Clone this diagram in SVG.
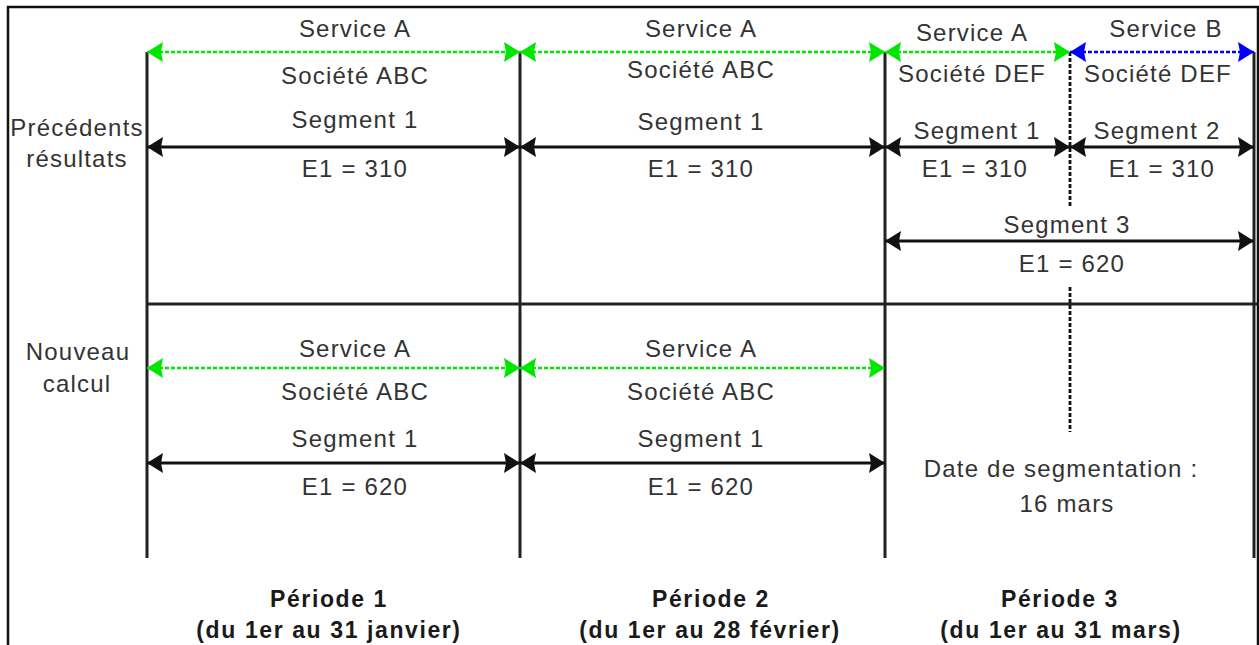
<svg xmlns="http://www.w3.org/2000/svg" width="1259" height="645" viewBox="0 0 1259 645">
<style>
.t{font-family:"Liberation Sans",Arial,sans-serif;font-size:24px;fill:#333;text-anchor:middle;letter-spacing:1.2px}
.b{font-family:"Liberation Sans",Arial,sans-serif;font-size:23px;font-weight:bold;fill:#1a1a1a;text-anchor:middle;letter-spacing:1.6px}
.v{stroke:#222;stroke-width:3;fill:none}
.blk{stroke:#111;stroke-width:2.8;fill:none;marker-start:url(#ak);marker-end:url(#ak)}
.grn{stroke:#00e600;stroke-width:2.6;stroke-dasharray:4 2;fill:none;marker-start:url(#ag);marker-end:url(#ag)}
.blu{stroke:#0000ff;stroke-width:2.6;stroke-dasharray:4 2;fill:none;marker-start:url(#ab);marker-end:url(#ab)}
.dash{stroke:#111;stroke-width:2.8;stroke-dasharray:4 2;fill:none}
</style>
<defs>
<marker id="ak" markerUnits="userSpaceOnUse" viewBox="0 0 16 20" markerWidth="16" markerHeight="20" refX="16" refY="10" orient="auto-start-reverse"><path d="M0,0 L16,10 L0,20 L2,10 z" fill="#111"/></marker>
<marker id="ag" markerUnits="userSpaceOnUse" viewBox="0 0 16 20" markerWidth="16" markerHeight="20" refX="16" refY="10" orient="auto-start-reverse"><path d="M0,0 L16,10 L0,20 L2,10 z" fill="#00e600"/></marker>
<marker id="ab" markerUnits="userSpaceOnUse" viewBox="0 0 16 20" markerWidth="16" markerHeight="20" refX="16" refY="10" orient="auto-start-reverse"><path d="M0,0 L16,10 L0,20 L2,10 z" fill="#0000ff"/></marker>
</defs>
<rect x="0" y="0" width="1259" height="645" fill="#fff"/>
<rect id="frame" x="8" y="7" width="1250" height="700" fill="none" stroke="#111" stroke-width="2.5"/>
<g id="grid">
<line class="v" x1="147" y1="52" x2="147" y2="558"/>
<line class="v" x1="520" y1="52" x2="520" y2="558"/>
<line class="v" x1="885" y1="52" x2="885" y2="558"/>
<line class="v" x1="1254" y1="52" x2="1254" y2="558"/>
<line class="v" x1="147" y1="304" x2="1257" y2="304"/>
<line class="dash" x1="1070" y1="52" x2="1070" y2="208"/>
<line class="dash" x1="1070" y1="287" x2="1070" y2="432"/>
</g>
<g id="connectors">
<line class="grn" x1="147" y1="52" x2="520" y2="52"/>
<line class="grn" x1="520" y1="52" x2="885" y2="52"/>
<line class="grn" x1="885" y1="52" x2="1070" y2="52"/>
<line class="blu" x1="1070" y1="52" x2="1254" y2="52"/>
<line class="blk" x1="147" y1="147" x2="520" y2="147"/>
<line class="blk" x1="520" y1="147" x2="885" y2="147"/>
<line class="blk" x1="885" y1="147" x2="1070" y2="147"/>
<line class="blk" x1="1070" y1="147" x2="1254" y2="147"/>
<line class="blk" x1="885" y1="241" x2="1254" y2="241"/>
<line class="grn" x1="147" y1="368" x2="520" y2="368"/>
<line class="grn" x1="520" y1="368" x2="885" y2="368"/>
<line class="blk" x1="147" y1="463" x2="520" y2="463"/>
<line class="blk" x1="520" y1="463" x2="885" y2="463"/>
</g>
<g id="rowlabels">
<text class="t" x="77" y="136">Précédents</text>
<text class="t" x="77" y="167">résultats</text>
<text class="t" x="78" y="360">Nouveau</text>
<text class="t" x="77" y="392">calcul</text>
</g>
<g id="p1-prev">
<text class="t" x="355" y="37">Service A</text>
<text class="t" x="355" y="84">Société ABC</text>
<text class="t" x="355" y="128">Segment 1</text>
<text class="t" x="355" y="177">E1 = 310</text>
</g>
<g id="p2-prev">
<text class="t" x="701" y="37">Service A</text>
<text class="t" x="701" y="78">Société ABC</text>
<text class="t" x="701" y="130">Segment 1</text>
<text class="t" x="701" y="177">E1 = 310</text>
</g>
<g id="p3-prev">
<text class="t" x="972" y="41">Service A</text>
<text class="t" x="972" y="82">Société DEF</text>
<text class="t" x="977" y="139">Segment 1</text>
<text class="t" x="975" y="177">E1 = 310</text>
<text class="t" x="1166" y="37">Service B</text>
<text class="t" x="1158" y="82">Société DEF</text>
<text class="t" x="1157" y="139">Segment 2</text>
<text class="t" x="1162" y="177">E1 = 310</text>
<text class="t" x="1067" y="233">Segment 3</text>
<text class="t" x="1072" y="272">E1 = 620</text>
</g>
<g id="p1-new">
<text class="t" x="355" y="357">Service A</text>
<text class="t" x="355" y="400">Société ABC</text>
<text class="t" x="355" y="447">Segment 1</text>
<text class="t" x="355" y="495">E1 = 620</text>
</g>
<g id="p2-new">
<text class="t" x="701" y="357">Service A</text>
<text class="t" x="701" y="400">Société ABC</text>
<text class="t" x="701" y="447">Segment 1</text>
<text class="t" x="701" y="495">E1 = 620</text>
</g>
<g id="p3-new">
<text class="t" x="1061" y="477">Date de segmentation :</text>
<text class="t" x="1067" y="512">16 mars</text>
</g>
<g id="periods">
<text class="b" x="329" y="607">Période 1</text>
<text class="b" x="329" y="638">(du 1er au 31 janvier)</text>
<text class="b" x="711" y="607">Période 2</text>
<text class="b" x="710" y="638">(du 1er au 28 février)</text>
<text class="b" x="1060" y="607">Période 3</text>
<text class="b" x="1061" y="638">(du 1er au 31 mars)</text>
</g>
</svg>
